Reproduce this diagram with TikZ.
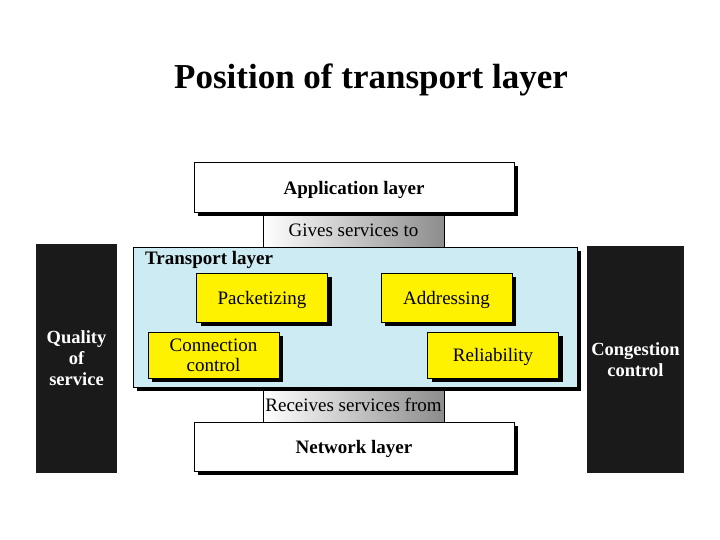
\documentclass[tikz,border=0pt]{standalone}
\usepackage{fontspec}
\setmainfont{Liberation Serif}
\usetikzlibrary{shadows}
\definecolor{tblue}{RGB}{205,235,243}
\definecolor{sideblack}{RGB}{26,26,26}
\tikzset{
  shad/.style={drop shadow={shadow xshift=4pt,shadow yshift=-4pt,fill=black,opacity=1}},
  layerbox/.style={draw=black,line width=0.6pt,fill=white,shad,minimum width=320pt,minimum height=50pt,inner sep=0pt,text depth=0pt,font=\fontsize{19}{21}\selectfont\bfseries},
  funcbox/.style={draw=black,line width=0.6pt,fill=yellow,shad,minimum width=131pt,inner sep=0pt,align=center,text depth=0pt,font=\fontsize{19}{20.5}\selectfont},
  svcbox/.style={draw=black,line width=0.6pt,left color=white,right color=black!45,minimum width=181pt,inner sep=0pt,text depth=0pt,font=\fontsize{19}{21}\selectfont},
  sidebox/.style={fill=sideblack,inner sep=0pt,align=center,text=white,font=\fontsize{18.5}{21}\selectfont\bfseries},
}
\begin{document}
\begin{tikzpicture}[x=1pt,y=-1pt]
\useasboundingbox (0,0) rectangle (720,540);
% title
\node[font=\fontsize{35}{38}\selectfont\bfseries,text depth=0pt] (title) at (371,76) {Position of transport layer};
% side boxes
\node[sidebox,minimum width=81pt,minimum height=229pt] (qos) at (76.5,358.5) {Quality\\of\\service};
\node[sidebox,minimum width=97pt,minimum height=227pt] (cong) at (635.5,359.5) {Congestion\\control};
% service boxes
\node[svcbox,minimum height=33pt] (gives) at (353.5,230.5) {Gives services to};
\node[svcbox,minimum height=35pt] (recv) at (353.5,404.5) {Receives services from};
% transport
\node[draw=black,line width=0.6pt,fill=tblue,shad,minimum width=444pt,minimum height=140pt,inner sep=0pt] (trans) at (355,317) {};
\node[anchor=north west,font=\fontsize{19}{21}\selectfont\bfseries,inner sep=0pt] (tlabel) at (145,251.5) {Transport layer};
% functions
\node[funcbox,minimum height=49pt] (pack) at (262,297.5) {Packetizing};
\node[funcbox,minimum height=49pt] (addr) at (446.5,297.5) {Addressing};
\node[funcbox,minimum height=46pt] (conn) at (213.5,355) {Connection\\control};
\node[funcbox,minimum height=46pt] (rel) at (493,355) {Reliability};
% layers
\node[layerbox] (app) at (354,187.5) {Application layer};
\node[layerbox,minimum height=49pt] (net) at (354,446.5) {Network layer};
\end{tikzpicture}
\end{document}
